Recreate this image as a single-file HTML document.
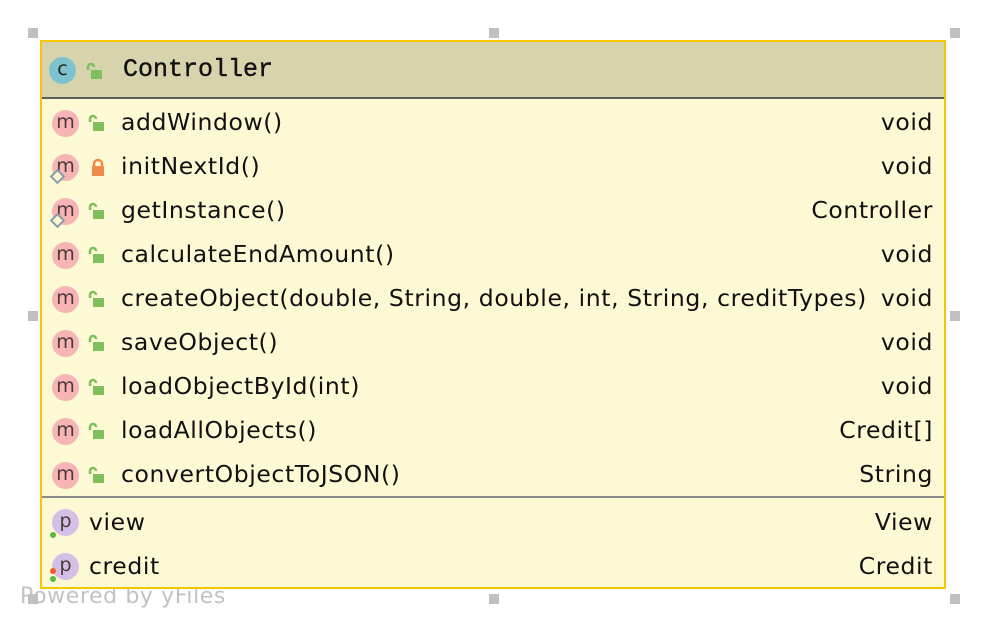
<!DOCTYPE html>
<html><head><meta charset="utf-8"><style>
body{margin:0;width:986px;height:630px;background:#fff;position:relative;overflow:hidden;font-family:"DejaVu Sans","Liberation Sans",sans-serif}
.h{position:absolute;width:10px;height:10px;background:#c0c0c0}
#box{position:absolute;left:40px;top:40px;width:902px;height:545px;border:2px solid #f6c600;background:#fcf9d4}
#hdr{position:absolute;left:0;top:0;width:902px;height:55px;background:#d7d4ad;border-bottom:2px solid #5e5e5e}
.sep{position:absolute;left:0;width:902px;height:2px;background:#8a8a88}
.row{position:absolute;left:0;width:902px;height:44px}
.ic{position:absolute;width:27px;height:27px;border-radius:50%;text-align:center;line-height:24px;font-size:19px;color:#4a3a3a}
.m{background:#f7b4b4}.p{background:#d4c0e6}
.nm{position:absolute;left:79px;top:8px;font-size:23.5px;letter-spacing:0.6px;color:#111;white-space:nowrap}
.ty{position:absolute;right:11px;top:8px;font-size:23.5px;letter-spacing:0.6px;color:#111}
.lk{position:absolute;left:46px;top:14px}
.dot{position:absolute;width:6px;height:6px;border-radius:50%}
.dia{position:absolute;left:10px;top:27px;width:7px;height:7px;border:2px solid #8a9aa8;background:#fcf9d4;transform:rotate(45deg)}
</style></head><body>
<div class="h" style="left:28px;top:28px"></div><div class="h" style="left:489px;top:28px"></div><div class="h" style="left:950px;top:28px"></div>
<div class="h" style="left:28px;top:311px"></div><div class="h" style="left:950px;top:311px"></div>
<div class="h" style="left:489px;top:594px"></div><div class="h" style="left:950px;top:594px"></div>
<div style="position:absolute;left:20px;top:584px;font-size:22px;letter-spacing:0.6px;color:#c2c2c2">Powered by yFiles</div>
<div class="h" style="left:28px;top:594px"></div>
<div id="box">
<div id="hdr">
<div class="ic" style="left:7px;top:15px;background:#7cc3cf;color:#222">c</div>
<svg style="position:absolute;left:44px;top:20px" width="18" height="18"><path d="M2 8V5a3 3 0 0 1 6 0" fill="none" stroke="#7fbf5e" stroke-width="2.5"/><rect x="5" y="8" width="11" height="9" fill="#7fbf5e"/></svg>
<div style="position:absolute;left:81px;top:13px;font-family:'Liberation Mono',monospace;font-size:25px;color:#111;-webkit-text-stroke:0.4px #111">Controller</div>
</div>
<div id="rows"></div>
<div class="sep" style="top:454px"></div>
</div>
<script>
var R=[["m","addWindow()","void",0],["m","initNextId()","void",1],["m","getInstance()","Controller",2],["m","calculateEndAmount()","void",0],["m","createObject(double, String, double, int, String, creditTypes)","void",0],["m","saveObject()","void",0],["m","loadObjectById(int)","void",0],["m","loadAllObjects()","Credit[]",0],["m","convertObjectToJSON()","String",0]];
var h="";
var g='<svg class="lk" width="18" height="18"><path d="M2 8V5a3 3 0 0 1 6 0" fill="none" stroke="#7fbf5e" stroke-width="2.5"/><rect x="5" y="8" width="11" height="9" fill="#7fbf5e"/></svg>';
var o='<svg class="lk" style="left:48px" width="16" height="18"><path d="M4 9V6a4 4 0 0 1 8 0v3" fill="none" stroke="#f08a4b" stroke-width="2.5"/><rect x="2" y="8" width="12" height="10" fill="#f08a4b"/></svg>';
R.forEach(function(r,i){var t=58+i*44;
h+='<div class="row" style="top:'+t+'px"><div class="ic m" style="left:10px;top:10px">m</div>'+(r[3]?'<div class="dia"></div>':'')+(r[3]==1?o:g)+'<div class="nm">'+r[1]+'</div><div class="ty">'+r[2]+'</div></div>';});
h+='<div class="row" style="top:458px"><div class="ic p" style="left:10px;top:9px">p</div><div class="dot" style="left:8px;top:32px;background:#5cb83c"></div><div class="nm" style="left:47px">view</div><div class="ty">View</div></div>';
h+='<div class="row" style="top:502px"><div class="ic p" style="left:10px;top:9px">p</div><div class="dot" style="left:8px;top:24px;background:#f0602a"></div><div class="dot" style="left:8px;top:32px;background:#5cb83c"></div><div class="nm" style="left:47px">credit</div><div class="ty">Credit</div></div>';
document.getElementById("rows").innerHTML=h;
</script>
</body></html>
